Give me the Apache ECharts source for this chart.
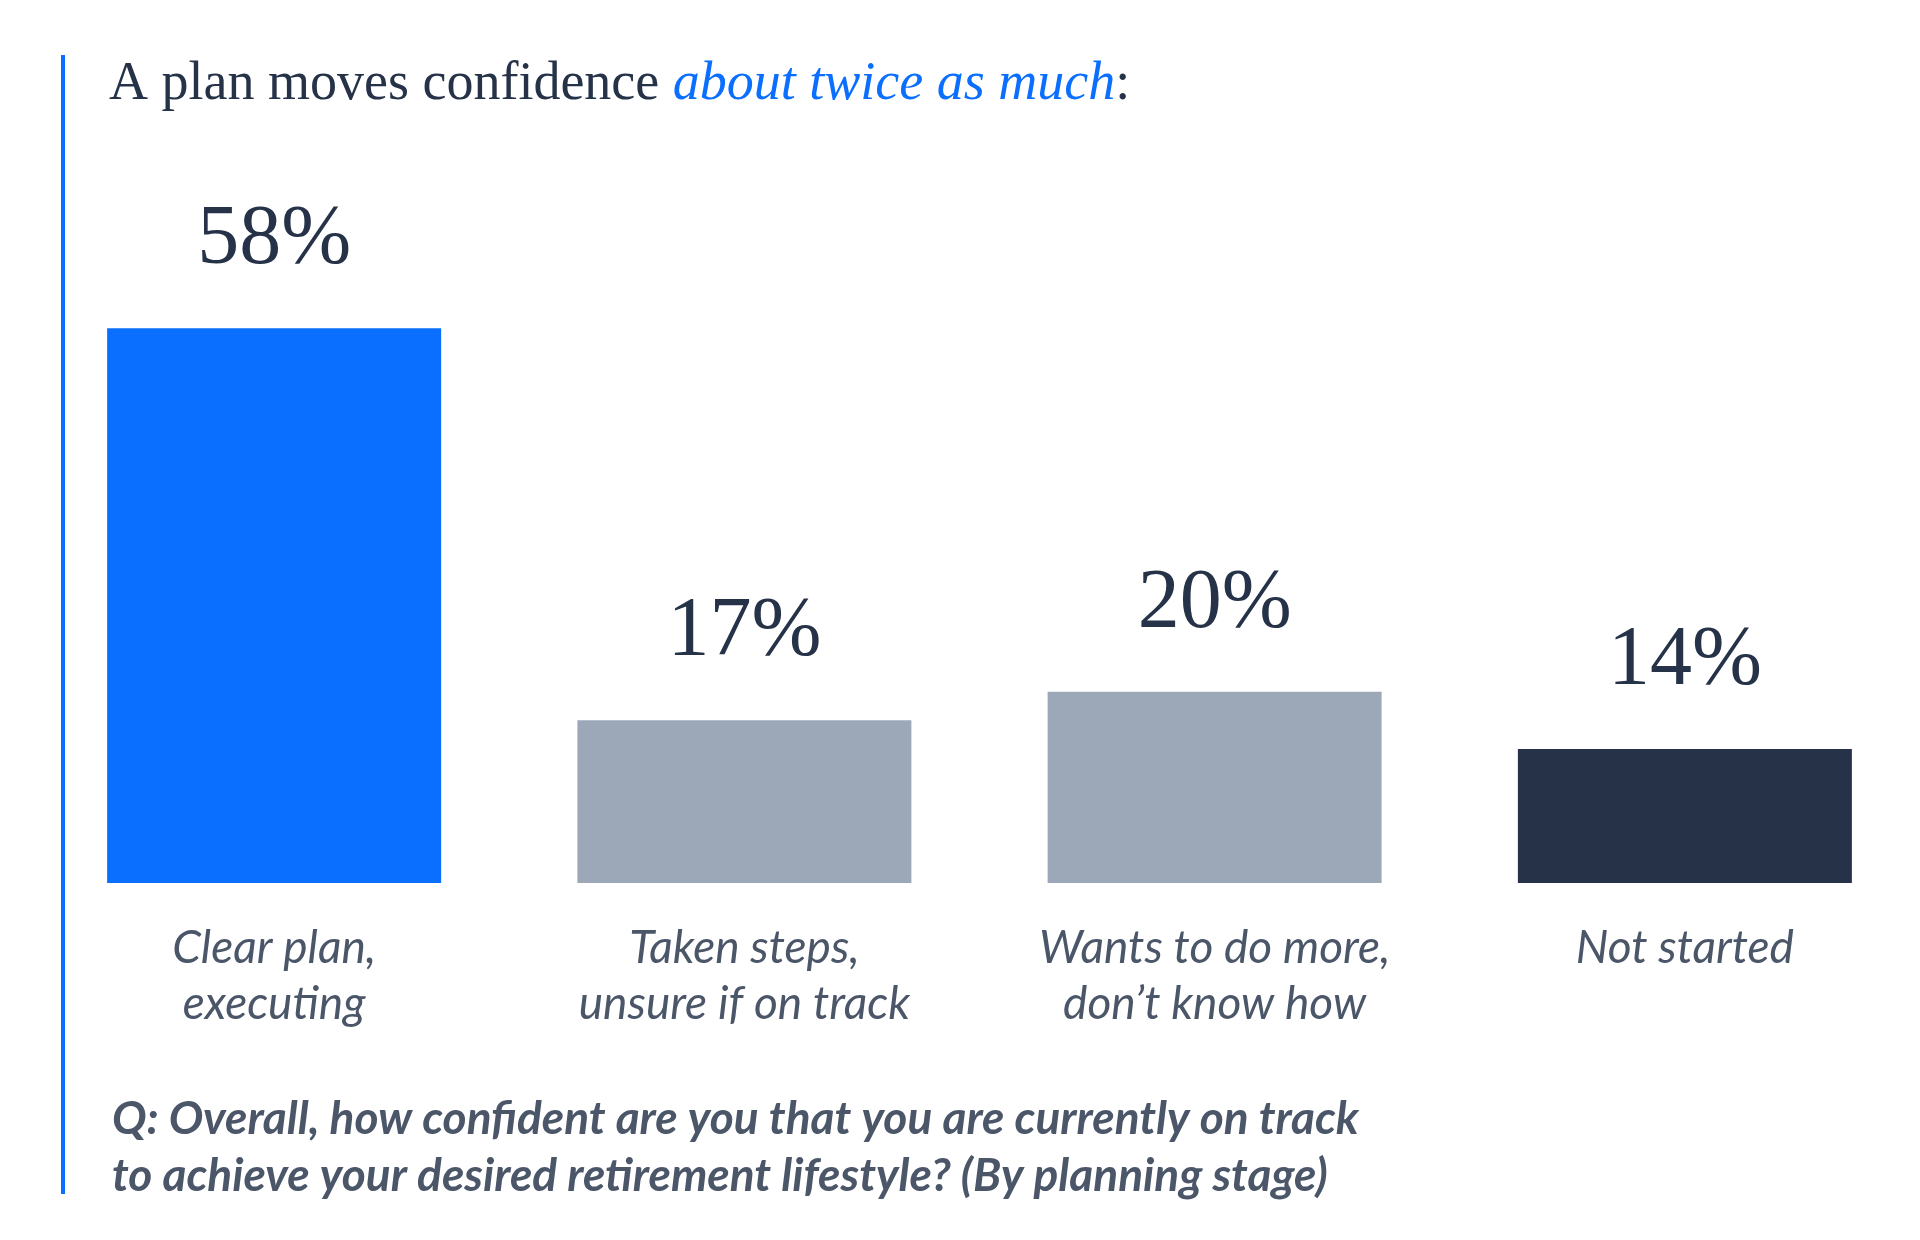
<!DOCTYPE html>
<html>
<head>
<meta charset="utf-8">
<script src="https://cdn.jsdelivr.net/npm/echarts@6/dist/echarts.min.js"></script>
<style>
  html, body { margin: 0; padding: 0; background: #fff; }
  #chart { width: 1920px; height: 1240px; }
</style>
</head>
<body>
<div id="chart"></div>
<script>
  // categories and values
  var categories = ['Clear plan,\nexecuting', 'Taken steps,\nunsure if on track', 'Wants to do more,\ndon\u2019t know how', 'Not started'];
  var confidence = [58, 17, 20, 14];
  var barColors = ['#0a6fff', '#9ca8b8', '#9ca8b8', '#253248'];

  var navy = '#253248';
  var blue = '#0a6fff';
  var slate = '#4b5669';

  var chart = echarts.init(document.getElementById('chart'));

  var option = {
    backgroundColor: '#fff',
    animation: false,
    title: {
      left: 104,
      top: 53,
      text: '{a|A plan moves confidence }{b|about twice as much}{a|:}',
      textStyle: {
        fontWeight: 'normal',
        rich: {
          a: { fontFamily: 'Liberation Serif', fontSize: 54, fontWeight: 'normal', color: navy },
          b: { fontFamily: 'Liberation Serif', fontSize: 54, fontWeight: 'normal', fontStyle: 'italic', color: blue }
        }
      }
    },
    grid: { left: 39, width: 1896, top: 309, bottom: 357, containLabel: false },
    xAxis: {
      type: 'category',
      data: categories,
      axisLine: { show: false },
      axisTick: { show: false },
      axisLabel: {
        margin: 37,
        fontFamily: 'Lato',
        fontStyle: 'italic',
        fontSize: 46,
        lineHeight: 56,
        color: slate
      }
    },
    yAxis: {
      type: 'value',
      min: 0,
      max: 60,
      show: false,
      splitLine: { show: false }
    },
    series: [{
      type: 'bar',
      barWidth: 334,
      data: confidence.map(function (v, i) {
        return { value: v, itemStyle: { color: barColors[i] } };
      }),
      label: {
        show: true,
        position: 'top',
        distance: 45,
        formatter: '{c}%',
        fontFamily: 'Liberation Serif',
        fontSize: 84,
        color: navy
      }
    }],
    graphic: [
      {
        type: 'line',
        shape: { x1: 63, y1: 55, x2: 63, y2: 1194 },
        style: { stroke: blue, lineWidth: 4 }
      },
      {
        type: 'text',
        left: 112,
        top: 1091,
        style: {
          text: 'Q: Overall, how confident are you that you are currently on track\nto achieve your desired retirement lifestyle? (By planning stage)',
          fontFamily: 'Lato',
          fontStyle: 'italic',
          fontWeight: 'bold',
          fontSize: 46,
          lineHeight: 57,
          fill: slate
        }
      }
    ]
  };

  chart.setOption(option);
</script>
</body>
</html>
